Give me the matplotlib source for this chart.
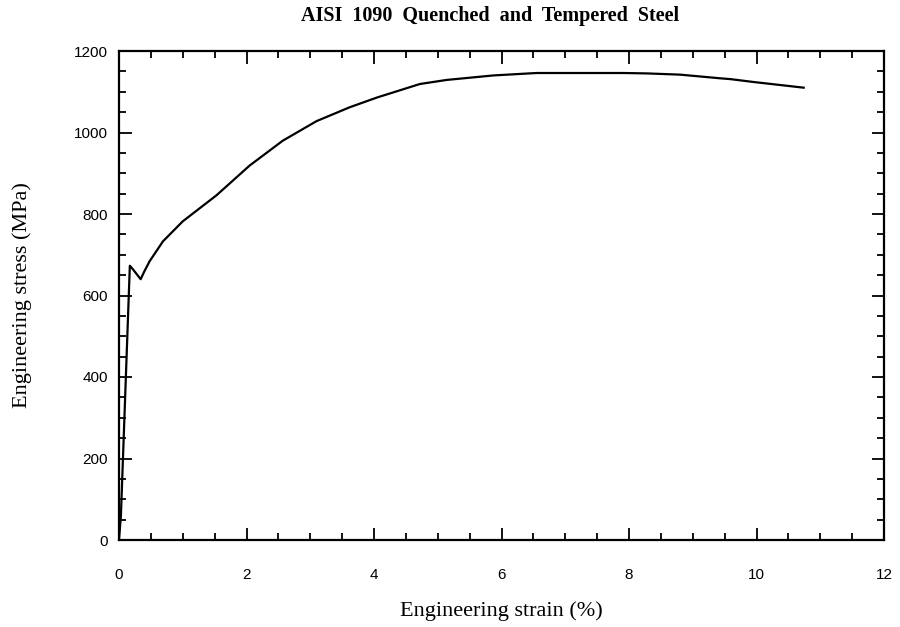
import matplotlib
matplotlib.use("Agg")
import matplotlib.pyplot as plt
from matplotlib.ticker import MultipleLocator

strain = [0.0, 0.03, 0.17, 0.22, 0.34, 0.40, 0.48, 0.69, 1.00, 1.53, 2.05, 2.57,
          3.10, 3.62, 4.05, 4.72, 5.14, 5.87, 6.55, 7.23, 7.91, 8.28,
          8.80, 9.43, 9.59, 9.95, 10.74]
stress = [0, 60, 673, 664, 640, 660, 684, 733, 782, 846, 919, 980,
          1028, 1062, 1086, 1119, 1129, 1140, 1146, 1146, 1146, 1145,
          1142, 1133, 1131, 1124, 1110]

title = "AISI  1090  Quenched  and  Tempered  Steel"
xlabel = "Engineering strain (%)"
ylabel = "Engineering stress (MPa)"

fig = plt.figure(figsize=(9, 6.27), dpi=100)
ax = fig.add_axes([119/900, 87/627, 765/900, 489/627])
ax.plot(strain, stress, color="black", lw=1.6)
ax.set_xlim(0, 12)
ax.set_ylim(0, 1200)
ax.xaxis.set_major_locator(MultipleLocator(2))
ax.xaxis.set_minor_locator(MultipleLocator(0.5))
ax.yaxis.set_major_locator(MultipleLocator(200))
ax.yaxis.set_minor_locator(MultipleLocator(50))
ax.tick_params(which="both", direction="in", top=True, right=True, width=1.3, color="black")
ax.tick_params(which="major", length=9, labelsize=11)
ax.tick_params(axis="x", which="major", pad=20)
ax.tick_params(axis="y", which="major", pad=8)
ax.tick_params(which="minor", length=5)
for lab in ax.get_xticklabels() + ax.get_yticklabels():
    lab.set_family("Liberation Sans")
for s in ax.spines.values():
    s.set_linewidth(1.6)
ax.set_xlabel(xlabel, family="Liberation Serif", fontsize=16, labelpad=14)
ax.set_ylabel(ylabel, family="Liberation Serif", fontsize=16, labelpad=30)
fig.text(0.545, 0.974, title, family="Liberation Serif", fontweight="bold",
         fontsize=14.5, ha="center", va="center")
fig.savefig("out.png", dpi=100)
